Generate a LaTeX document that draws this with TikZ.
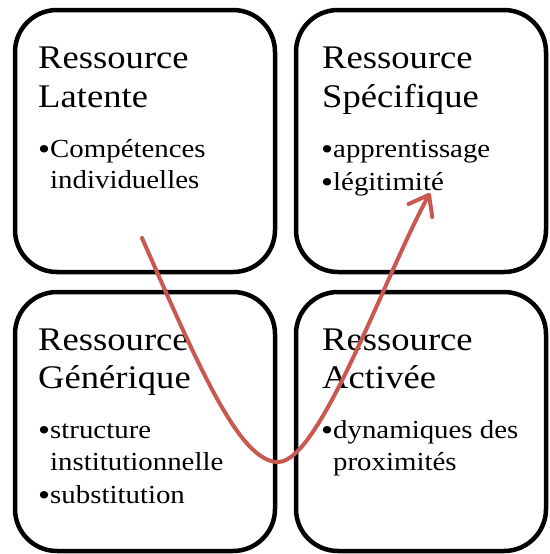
\documentclass[tikz,border=0pt]{standalone}
\usepackage{fontspec}
\setmainfont{Liberation Serif}[FakeStretch=1.11]
\usetikzlibrary{arrows.meta}

\definecolor{fleche}{RGB}{200,88,80}

\tikzset{
  box/.style={draw,line width=4.5pt,rounded corners=42pt,inner sep=0pt},
  titre/.style={anchor=base west,inner sep=0pt,font=\fontsize{33}{39}\selectfont},
  puce/.style={anchor=base west,inner sep=0pt,font=\fontsize{26}{31}\selectfont},
  point/.style={anchor=base west,inner sep=0pt,font=\fontsize{31}{31}\selectfont},
}

\begin{document}
\begin{tikzpicture}[x=1pt,y=-1pt,>={Straight Barb[round,length=18pt,width=27pt]}]

	\useasboundingbox (0,0) rectangle (549,554);

	% les quatre cadres
	\node[box,minimum width=260pt,minimum height=262pt] (latente) at (145,141) {};
	\node[box,minimum width=250pt,minimum height=262pt] (specifique) at (421,141) {};
	\node[box,minimum width=260pt,minimum height=259pt] (generique) at (145,421.5) {};
	\node[box,minimum width=250pt,minimum height=259pt] (activee) at (421,421.5) {};

	% Ressource Latente
	\node[titre] (latente-t1) at (38,68) {Ressource};
	\node[titre] (latente-t2) at (38,107) {Latente};
	\node[point] (latente-b1) at (38,159) {•};
	\node[puce] (latente-p1) at (50,157) {Compétences};
	\node[puce] (latente-p2) at (50,188) {individuelles};

	% Ressource Specifique
	\node[titre] (specifique-t1) at (322,68) {Ressource};
	\node[titre] (specifique-t2) at (322,107) {Spécifique};
	\node[point] (specifique-b1) at (321,159) {•};
	\node[puce] (specifique-p1) at (333,157) {apprentissage};
	\node[point] (specifique-b2) at (321,192) {•};
	\node[puce] (specifique-p2) at (333,190) {légitimité};

	% Ressource Generique
	\node[titre] (generique-t1) at (38,350) {Ressource};
	\node[titre] (generique-t2) at (38,388) {Générique};
	\node[point] (generique-b1) at (38,440) {•};
	\node[puce] (generique-p1) at (50,438) {structure};
	\node[puce] (generique-p2) at (50,470) {institutionnelle};
	\node[point] (generique-b2) at (38,505) {•};
	\node[puce] (generique-p3) at (50,503) {substitution};

	% Ressource Activee
	\node[titre] (activee-t1) at (322,350) {Ressource};
	\node[titre] (activee-t2) at (322,388) {Activée};
	\node[point] (activee-b1) at (321,440) {•};
	\node[puce] (activee-p1) at (333,438) {dynamiques des};
	\node[puce] (activee-p2) at (333,470) {proximités};

	% la fleche
	\coordinate (depart) at (142,238);
	\coordinate (creux) at (278,462);
	\coordinate (arrivee) at (430,193);
	\draw[->,line width=4pt,fleche,line cap=round] (depart) .. controls (200,370) and (240,462) .. (creux)
		.. controls (320,462) and (385,275) .. (arrivee);

\end{tikzpicture}
\end{document}
